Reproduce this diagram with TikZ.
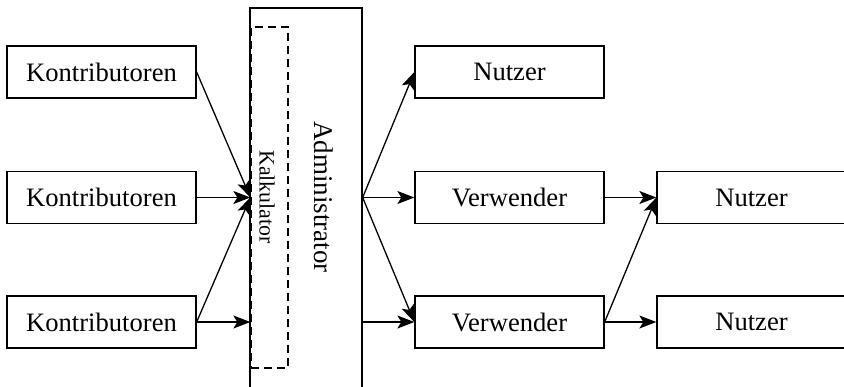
\documentclass[tikz,border=0pt]{standalone}
\usepackage{fontspec}
\setmainfont{Liberation Serif}
\usetikzlibrary{arrows.meta}
\begin{document}
\begin{tikzpicture}[x=0.5pt,y=-0.5pt,
  box/.style={draw,line width=0.65pt,rectangle,inner sep=0pt,minimum width=94.5pt,minimum height=26pt,font=\fontsize{13.3}{15}\selectfont},
  conn/.style={line width=0.65pt,-{Stealth[length=8.5pt,width=6.5pt,inset=2pt]}},
  lbl/.style={rotate=-90,inner sep=0pt}]
\useasboundingbox (0,0) rectangle (844,386);
\begin{scope}
\clip (0,0) rectangle (844,386);
\node[box] (k1) at (101.5,72) {Kontributoren};
\node[box] (k2) at (101.5,197.5) {Kontributoren};
\node[box] (k3) at (101.5,322) {Kontributoren};
\node[draw,line width=0.65pt,rectangle,inner sep=0pt,minimum width=56pt,minimum height=196pt] (admin) at (306,204) {};
\node[draw,dash pattern=on 4pt off 2.5pt,line width=0.65pt,rectangle,inner sep=0pt,minimum width=18.5pt,minimum height=170.5pt] (calc) at (269.5,197.5) {};
\node[lbl,font=\fontsize{10.9}{13}\selectfont] (calctext) at (267,197) {Kalkulator};
\node[lbl,font=\fontsize{13.5}{15}\selectfont] (admintext) at (324,197) {Administrator};
\node[box] (n1) at (509.5,72) {Nutzer};
\node[box] (v1) at (509.5,197.5) {Verwender};
\node[box] (v2) at (509.5,322) {Verwender};
\node[box] (n2) at (751.5,197.5) {Nutzer};
\node[box] (n3) at (751.5,322) {Nutzer};
\coordinate (out) at (admin.east |- calc.center);
\draw[conn] (k1.east) -- (calc.west);
\draw[conn] (k2.east) -- (calc.west);
\draw[conn] (k3.east) -- (calc.west);
\draw[conn] (k3.east) -- (calc.west |- k3.east);
\draw[conn] (out) -- (n1.west);
\draw[conn] (out) -- (v1.west);
\draw[conn] (out) -- (v2.west);
\draw[conn] (admin.east |- v2.west) -- (v2.west);
\draw[conn] (v1.east) -- (n2.west);
\draw[conn] (v2.east) -- (n2.west);
\draw[conn] (v2.east) -- (n3.west);
\end{scope}
\end{tikzpicture}
\end{document}
